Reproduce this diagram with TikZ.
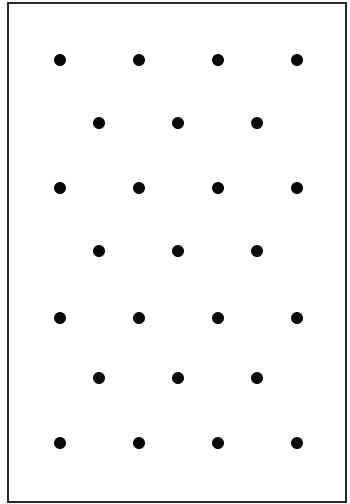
\documentclass[tikz,border=0pt]{standalone}
\usepackage{xcolor}
\usepackage{tikz}
\definecolor{figedge}{RGB}{40,40,40}
\definecolor{dotink}{RGB}{10,10,10}

\begin{document}
\begin{tikzpicture}[x=1pt, y=-1pt,
  frame/.style={draw=figedge, line width=1.2pt},
  dot/.style={circle, fill=dotink, inner sep=0pt, minimum size=12pt}]
  \useasboundingbox (0,0) rectangle (349,504);
  \draw[frame] (8,3) rectangle (346,502);
  % full rows of four
  \foreach \r/\y in {1/60, 3/188, 5/318, 7/443}
    \foreach \c/\x in {1/60, 2/139, 3/218, 4/297}
      \node[dot] (d-\r-\c) at (\x,\y) {};
  % offset rows of three
  \foreach \r/\y in {2/123, 4/251, 6/378}
    \foreach \c/\x in {1/99, 2/178, 3/257}
      \node[dot] (d-\r-\c) at (\x,\y) {};
\end{tikzpicture}
\end{document}
